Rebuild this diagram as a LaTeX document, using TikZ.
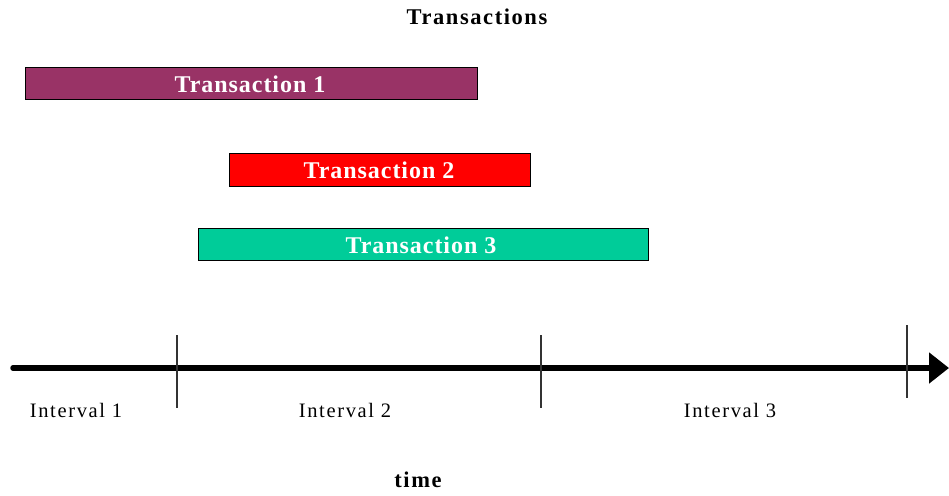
\documentclass[tikz,border=0pt]{standalone}
\usepackage{fontspec}
\setmainfont{Liberation Serif}
\usetikzlibrary{arrows.meta}
\definecolor{barpurple}{HTML}{993366}
\definecolor{barred}{HTML}{FF0000}
\definecolor{barteal}{HTML}{00CC99}
\begin{document}
\begin{tikzpicture}[x=1pt,y=-1pt,
  bar/.style={draw=black,line width=0.9pt,inner sep=0pt},
  barlabel/.style={text=white,font=\fontsize{24}{24}\selectfont\bfseries\addfontfeatures{LetterSpace=4}},
  tick/.style={line width=1.3pt,draw=black!80},
  intlabel/.style={font=\fontsize{20.5}{20.5}\selectfont\addfontfeatures{LetterSpace=8}},
  heading/.style={font=\fontsize{22.5}{22.5}\selectfont\bfseries\addfontfeatures{LetterSpace=7}}]
\useasboundingbox (0,0) rectangle (949,495);
% title
\node[heading] (title) at (477,17) {Transactions};
% transaction bars
\filldraw[bar,fill=barpurple] (25,67) rectangle (477,99);
\node[barlabel] (t1) at (250,84) {Transaction 1};
\filldraw[bar,fill=barred] (229,153) rectangle (530,186);
\node[barlabel] (t2) at (379,170) {Transaction 2};
\filldraw[bar,fill=barteal] (198,228) rectangle (648,260);
\node[barlabel] (t3) at (421,245) {Transaction 3};
% time axis
\coordinate (axstart) at (13,368);
\coordinate (axend) at (949,368);
\draw[line width=5.5pt,line cap=round,-{Triangle[length=20pt,width=30pt]}] (axstart) -- (axend);
% interval separators
\draw[tick] (177,335) -- (177,408);
\draw[tick] (541,335) -- (541,408);
\draw[tick] (907,325) -- (907,398);
% interval labels
\node[intlabel] (i1) at (76,410) {Interval 1};
\node[intlabel] (i2) at (345,410) {Interval 2};
\node[intlabel] (i3) at (730,410) {Interval 3};
\node[heading] (time) at (418,480) {time};
\end{tikzpicture}
\end{document}
